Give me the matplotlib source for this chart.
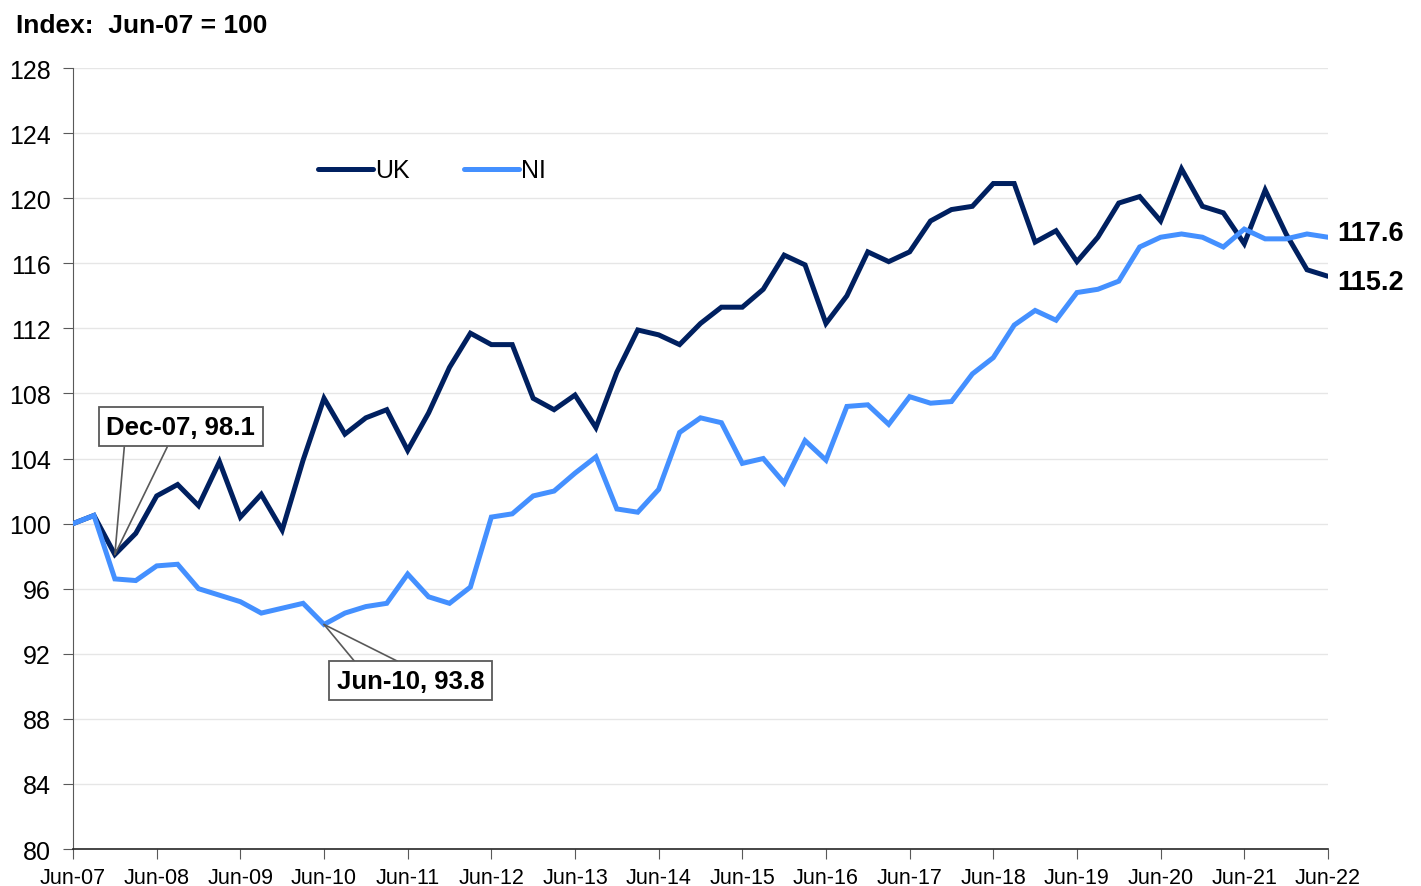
import matplotlib
matplotlib.use("Agg")
import matplotlib.pyplot as plt
import numpy as np

plt.rcParams['font.family'] = ['Liberation Sans', 'DejaVu Sans']

# Quarterly index, Jun-07 = 100 (Jun-07 .. Jun-22)
uk = [100.0, 100.5, 98.1, 99.4, 101.7, 102.4, 101.1, 103.8, 100.4, 101.8,
      99.6, 103.9, 107.7, 105.5, 106.5, 107.0, 104.5, 106.8, 109.6, 111.7,
      111.0, 111.0, 107.7, 107.0, 107.9, 105.9, 109.3, 111.9, 111.6, 111.0,
      112.3, 113.3, 113.3, 114.4, 116.5, 115.9, 112.3, 114.0, 116.7, 116.1,
      116.7, 118.6, 119.3, 119.5, 120.9, 120.9, 117.3, 118.0, 116.1, 117.6,
      119.7, 120.1, 118.6, 121.8, 119.5, 119.1, 117.2, 120.5, 117.8, 115.6,
      115.2]
ni = [100.0, 100.5, 96.6, 96.5, 97.4, 97.5, 96.0, 95.6, 95.2, 94.5,
      94.8, 95.1, 93.8, 94.5, 94.9, 95.1, 96.9, 95.5, 95.1, 96.1,
      100.4, 100.6, 101.7, 102.0, 103.1, 104.1, 100.9, 100.7, 102.1, 105.6,
      106.5, 106.2, 103.7, 104.0, 102.5, 105.1, 103.9, 107.2, 107.3, 106.1,
      107.8, 107.4, 107.5, 109.2, 110.2, 112.2, 113.1, 112.5, 114.2, 114.4,
      114.9, 117.0, 117.6, 117.8, 117.6, 117.0, 118.1, 117.5, 117.5, 117.8,
      117.6]
year_labels = ["Jun-%02d" % y for y in range(7, 23)]
y_ticks = list(range(80, 129, 4))

UK_C = '#002060'
NI_C = '#4490FF'

fig = plt.figure(figsize=(14.21, 8.87), dpi=100)
ax = fig.add_axes([0.0514, 0.0417, 0.8831, 0.8805])

x = np.arange(len(uk))
ax.plot(x, uk, color=UK_C, lw=3.6, label='UK', solid_joinstyle='miter', solid_capstyle='round', zorder=3)
ax.plot(x, ni, color=NI_C, lw=3.6, label='NI', solid_joinstyle='miter', solid_capstyle='round', zorder=3)

ax.set_xlim(0, len(uk) - 1)
ax.set_ylim(80, 128)
ax.set_yticks(y_ticks)
ax.set_yticklabels([str(v) for v in y_ticks], fontsize=18)
ax.set_xticks(np.arange(0, len(uk), 4))
ax.set_xticklabels(year_labels, fontsize=15.5)

for v in y_ticks[1:]:
    ax.axhline(v, color='#E6E6E6', lw=1, zorder=1)

for s in ['top', 'right']:
    ax.spines[s].set_visible(False)
ax.spines['left'].set_color('#595959')
ax.spines['bottom'].set_color('#262626')
ax.spines['bottom'].set_linewidth(1.2)
ax.tick_params(axis='y', direction='out', length=7, color='#595959', pad=9)
ax.tick_params(axis='x', direction='out', length=7, color='#595959', pad=6)

fig.text(0.011, 0.971, "Index:  Jun-07 = 100", fontsize=19, fontweight='bold', va='center', ha='left')

leg = ax.legend(loc='center left', bbox_to_anchor=(0.177, 0.869), ncol=2, frameon=False,
                fontsize=18, handlelength=2.2, handletextpad=0.08, columnspacing=2.2)

# end labels
ax.text(len(uk) - 1 + 0.45, ni[-1] + 0.25, "%.1f" % ni[-1], fontsize=19.5, fontweight='bold', va='center', ha='left', clip_on=False)
ax.text(len(uk) - 1 + 0.45, uk[-1] - 0.35, "%.1f" % uk[-1], fontsize=19.5, fontweight='bold', va='center', ha='left', clip_on=False)

# callouts
box = dict(boxstyle='square,pad=0.3', fc='white', ec='#595959', lw=1.3)
i1 = 2
ax.text(5.15, 105.95, "Dec-07, %.1f" % uk[i1], fontsize=18.5, fontweight='bold', ha='center', va='center', bbox=box, zorder=5)
for xs in (2.45, 4.5):
    ax.annotate('', xy=(i1, uk[i1]), xytext=(xs, 104.7),
                arrowprops=dict(arrowstyle='-', color='#595959', lw=1.2, shrinkA=0, shrinkB=0), zorder=4)
i2 = 12
ax.text(16.15, 90.35, "Jun-10, %.1f" % ni[i2], fontsize=18.5, fontweight='bold', ha='center', va='center', bbox=box, zorder=5)
for xs in (13.45, 15.5):
    ax.annotate('', xy=(i2, ni[i2]), xytext=(xs, 91.55),
                arrowprops=dict(arrowstyle='-', color='#595959', lw=1.2, shrinkA=0, shrinkB=0), zorder=4)

fig.savefig('out.png', dpi=100)
